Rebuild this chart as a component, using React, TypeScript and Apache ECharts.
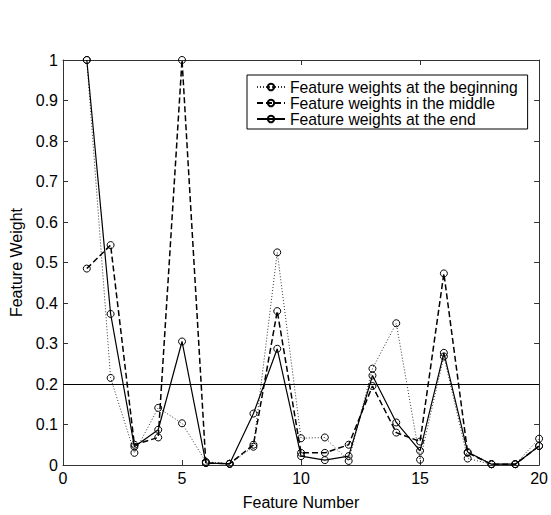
import React, { useEffect, useRef } from "react";
import * as echarts from "echarts";

const featureNumbers = [1, 2, 3, 4, 5, 6, 7, 8, 9, 10, 11, 12, 13, 14, 15, 16, 17, 18, 19, 20];
const weightsBeginning = [1.0, 0.215, 0.03, 0.141, 0.103, 0.008, 0.003, 0.045, 0.525, 0.066, 0.068, 0.01, 0.238, 0.35, 0.013, 0.268, 0.016, 0.002, 0.002, 0.065];
const weightsMiddle = [0.485, 0.543, 0.05, 0.068, 1.0, 0.005, 0.003, 0.05, 0.38, 0.03, 0.03, 0.05, 0.195, 0.08, 0.058, 0.473, 0.03, 0.002, 0.002, 0.047];
const weightsEnd = [1.0, 0.373, 0.045, 0.087, 0.305, 0.005, 0.003, 0.127, 0.287, 0.022, 0.012, 0.022, 0.221, 0.105, 0.035, 0.277, 0.032, 0.002, 0.002, 0.047];
const seriesNames = [
  "Feature weights at the beginning",
  "Feature weights in the middle",
  "Feature weights at the end",
];
const thresholdValue = 0.2;

const FONT = "'Liberation Sans', Arial, Helvetica, sans-serif";

export default function App() {
  const ref = useRef<HTMLDivElement>(null);

  useEffect(() => {
    if (!ref.current) return;
    const chart = echarts.init(ref.current, undefined, { renderer: "svg" });
    const pairs = (ys: number[]) => featureNumbers.map((x, i) => [x, ys[i]]);
    const mkSeries = (name: string, ys: number[], type: any, width: number, color: string, extra: any = {}) => ({
      name,
      type: "line",
      data: pairs(ys),
      symbol: "circle",
      symbolSize: 7,
      color,
      itemStyle: { color: "rgba(255,255,255,0)", borderColor: "#000", borderWidth: 1 },
      lineStyle: { color, width, type },
      emphasis: { disabled: true },
      ...extra,
    });
    const tickInside = { show: true, inside: true, length: 5, lineStyle: { color: "#333" } };
    chart.setOption({
      animation: false,
      backgroundColor: "#fff",
      textStyle: { fontFamily: FONT },
      grid: { left: 63, right: 10, top: 60, bottom: 44, containLabel: false },
      legend: {
        orient: "vertical",
        left: 247,
        top: 75,
        padding: [4, 10, 2, 9],
        borderColor: "#000",
        borderWidth: 1,
        backgroundColor: "#fff",
        itemWidth: 28,
        itemHeight: 8,
        itemGap: 0,
        textStyle: { fontSize: 15.7, lineHeight: 14.5, color: "#000", fontFamily: FONT },
        data: seriesNames,
      },
      xAxis: [
        {
          type: "value",
          min: 0,
          max: 20,
          interval: 5,
          name: "Feature Number",
          nameLocation: "middle",
          nameGap: 29,
          nameTextStyle: { fontSize: 16, color: "#000", fontFamily: FONT },
          axisLine: { show: true, onZero: false, lineStyle: { color: "#333", width: 1 } },
          axisTick: tickInside,
          axisLabel: { fontSize: 16, color: "#000", margin: 5, fontFamily: FONT },
          splitLine: { show: false },
        },
        {
          type: "value",
          position: "top",
          min: 0,
          max: 20,
          interval: 5,
          axisLine: { show: true, onZero: false, lineStyle: { color: "#333", width: 1 } },
          axisTick: tickInside,
          axisLabel: { show: false },
          splitLine: { show: false },
        },
      ],
      yAxis: [
        {
          type: "value",
          min: 0,
          max: 1,
          interval: 0.1,
          name: "Feature Weight",
          nameLocation: "middle",
          nameGap: 35,
          nameTextStyle: { fontSize: 16, color: "#000", fontFamily: FONT },
          axisLine: { show: true, onZero: false, lineStyle: { color: "#333", width: 1 } },
          axisTick: tickInside,
          axisLabel: {
            fontSize: 16,
            color: "#000",
            margin: 5,
            fontFamily: FONT,
            formatter: (v: number) => String(+v.toFixed(1)),
          },
          splitLine: { show: false },
        },
        {
          type: "value",
          position: "right",
          min: 0,
          max: 1,
          interval: 0.1,
          axisLine: { show: true, onZero: false, lineStyle: { color: "#333", width: 1 } },
          axisTick: tickInside,
          axisLabel: { show: false },
          splitLine: { show: false },
        },
      ],
      series: [
        mkSeries(seriesNames[0], weightsBeginning, [1, 2], 1, "#333"),
        mkSeries(seriesNames[1], weightsMiddle, [6, 3], 1.5, "#000"),
        mkSeries(seriesNames[2], weightsEnd, "solid", 1.2, "#000", {
          markLine: {
            silent: true,
            symbol: ["none", "none"],
            label: { show: false },
            lineStyle: { color: "#000", width: 1, type: "solid" },
            data: [{ yAxis: thresholdValue }],
          },
        }),
      ],
    });
    return () => chart.dispose();
  }, []);

  return (
    <div
      ref={ref}
      style={{ position: "fixed", left: 0, top: 0, width: 551, height: 515, background: "#fff" }}
    />
  );
}
